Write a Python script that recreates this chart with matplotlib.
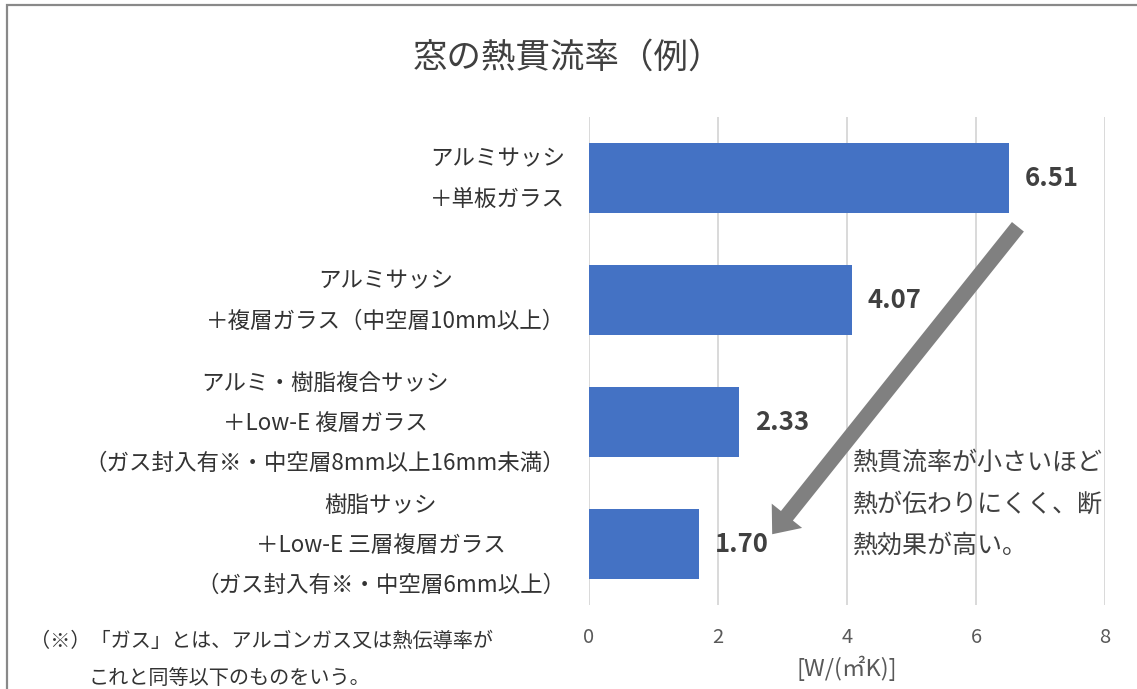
import numpy as np
import matplotlib
matplotlib.use("Agg")
import matplotlib.pyplot as plt
from matplotlib.patches import Rectangle
from matplotlib.transforms import ScaledTranslation

plt.rcParams['font.family'] = ['Noto Sans CJK JP', 'DejaVu Sans']

# data
categories = [
    "アルミサッシ\n＋単板ガラス",
    "アルミサッシ\n＋複層ガラス（中空層10mm以上）",
    "アルミ・樹脂複合サッシ\n＋Low-E 複層ガラス\n（ガス封入有※・中空層8mm以上16mm未満）",
    "樹脂サッシ\n＋Low-E 三層複層ガラス\n（ガス封入有※・中空層6mm以上）",
]
values = [6.51, 4.07, 2.33, 1.70]
xticks = [0, 2, 4, 6, 8]

title = "窓の熱貫流率（例）"
xlabel = "[W/(㎡K)]"
note = "熱貫流率が小さいほど\n熱が伝わりにくく、断\n熱効果が高い。"
foot1 = "（※）「ガス」とは、アルゴンガス又は熱伝導率が"
foot2 = "これと同等以下のものをいう。"

W, H = 1137, 689
fig = plt.figure(figsize=(W / 100, H / 100), dpi=100)
ax = fig.add_axes([589 / W, 1 - 605 / H, (1105 - 589) / W, (605 - 117) / H])

y = np.arange(len(values))
ax.barh(y, values, height=0.58, color='#4472C4', zorder=2)
ax.set_ylim(len(values) - 0.5, -0.5)
ax.set_xlim(0, 8)
ax.set_xticks(xticks)
ax.set_yticks(y)
ax.set_yticklabels(categories, fontsize=16.2, color='#333333',
                   multialignment='center', linespacing=1.95)
ax.tick_params(axis='y', length=0, pad=17)
ax.tick_params(axis='x', length=0, pad=16, labelsize=14.5, labelcolor='#595959')
ax.grid(axis='x', color='#d9d9d9', lw=1.4, zorder=0)
for s in ax.spines.values():
    s.set_visible(False)
# nudge category labels up a little
shift = ScaledTranslation(0, 10 / 100, fig.dpi_scale_trans)
for lbl in ax.get_yticklabels():
    lbl.set_transform(lbl.get_transform() + shift)

ax.set_xlabel(xlabel, fontsize=17, color='#595959', labelpad=5)

for yi, v in zip(y, values):
    ax.annotate(f"{v:.2f}", (v, yi), xytext=(16, 0), textcoords='offset pixels',
                ha='left', va='center', fontsize=18.5, fontweight='bold',
                color='#404040')

# arrow
ax.annotate('', xy=(2.84, 2.92), xytext=(6.65, 0.40),
            arrowprops=dict(facecolor='#808080', edgecolor='none',
                            width=11, headwidth=28, headlength=17, shrink=0),
            annotation_clip=False, zorder=3)

fig.text(853 / W, 1 - 450 / H, note, fontsize=18, color='#404040',
         ha='left', va='top', linespacing=1.78)

fig.text(568 / W, 1 - 58 / H, title, fontsize=24.8, color='#404040',
         ha='center', va='center')

fig.text(30 / W, 1 - 641 / H, foot1, fontsize=14.5, color='#333333',
         ha='left', va='center')
fig.text(88 / W, 1 - 679 / H, foot2, fontsize=14.5, color='#333333',
         ha='left', va='center')

# chart frame
fig.patches.append(Rectangle((7 / W, -0.2), 1.2, 1.2 - 5 / H, transform=fig.transFigure,
                             fill=False, edgecolor='#898989', lw=1.6))

fig.savefig("out.png", dpi=100, facecolor='white')
